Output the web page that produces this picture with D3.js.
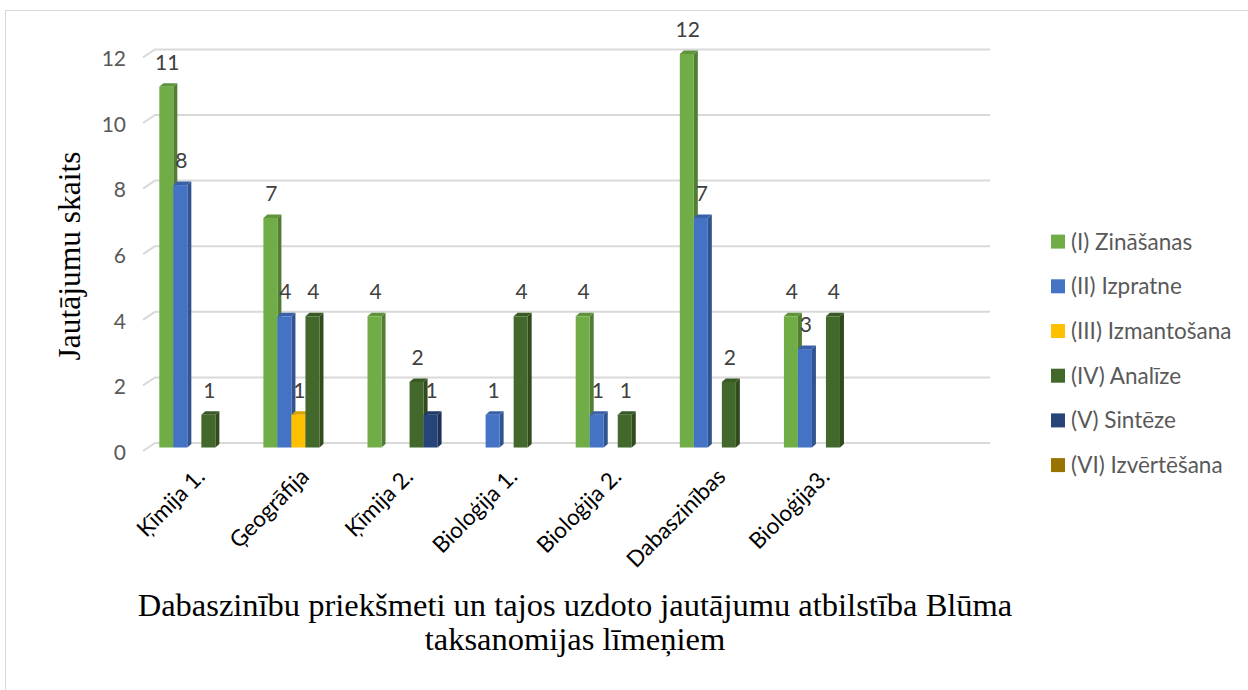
<!DOCTYPE html>
<html>
<head>
<meta charset="utf-8">
<script src="https://cdn.jsdelivr.net/npm/d3@7"></script>
<style>
  body { margin: 0; background: #fff; }
  svg { display: block; }
</style>
</head>
<body>
<svg id="chart" width="1248" height="690"></svg>
<script>
// subjects (last slot is left empty, as in the original sheet)
const categories = ['Ķīmija 1.', 'Ģeogrāfija', 'Ķīmija 2.', 'Bioloģija 1.', 'Bioloģija 2.', 'Dabaszinības', 'Bioloģija3.', ''];
const seriesNames = ['(I) Zināšanas', '(II) Izpratne', '(III) Izmantošana', '(IV) Analīze', '(V) Sintēze', '(VI) Izvērtēšana'];
const zinasanas = [11, 7, 4, 0, 4, 12, 4];
const izpratne = [8, 4, 0, 1, 1, 7, 3];
const izmantosana = [0, 1, 0, 0, 0, 0, 0];
const analize = [1, 4, 2, 4, 1, 2, 4];
const sinteze = [0, 0, 1, 0, 0, 0, 0];
const izvertesana = [0, 0, 0, 0, 0, 0, 0];
const yTicks = [0, 2, 4, 6, 8, 10, 12];

const seriesValues = [zinasanas, izpratne, izmantosana, analize, sinteze, izvertesana];
const front = ['#70ad47', '#4472c4', '#ffc000', '#43682b', '#264478', '#997300'];

const svg = d3.select('#chart');
const depthX = 4, depthY = 3.5, wallX = 12, wallY = 8;

// chart frame
svg.append('rect')
	.attr('x', 5.5).attr('y', 10.5)
	.attr('width', 1300).attr('height', 800)
	.attr('fill', 'none').attr('stroke', '#d9d9d9').attr('stroke-width', 1);

const x = d3.scaleBand().domain(d3.range(categories.length)).range([149.3, 982.1]);
const xs = d3.scaleBand().domain(d3.range(seriesNames.length)).range([10, x.bandwidth() - 10]);
const y = d3.scaleLinear().domain([0, 12]).range([447.5, 53.9]);

// gridlines on the back wall
const grid = svg.append('g');
yTicks.forEach(t => {
	const yy = y(t);
	grid.append('path')
		.attr('d', `M143,${yy + 3.5}L${143 + wallX},${yy + 3.5 - wallY}H990`)
		.attr('fill', 'none').attr('stroke', '#d9d9d9').attr('stroke-width', 2);
});

// y axis tick labels
const yAxis = svg.append('g')
	.attr('transform', 'translate(126,5)')
	.call(d3.axisLeft(y).tickValues(yTicks).tickSize(0).tickPadding(0));
yAxis.select('.domain').remove();
yAxis.selectAll('text')
	.attr('font-family', 'Lato, sans-serif').attr('font-size', 21).attr('fill', '#595959');

// bars, drawn left to right so the next front face hides the side of the previous one
const bars = svg.append('g');
categories.forEach((c, i) => {
	seriesValues.forEach((vals, s) => {
		const v = vals[i];
		if (!v) return;
		const x0 = x(i) + xs(s), w = xs.bandwidth(), yt = y(v), yb = y(0);
		const col = d3.color(front[s]);
		const g = bars.append('g');
		g.append('path')
			.attr('d', `M${x0 + w},${yb}L${x0 + w},${yt}L${x0 + w + depthX},${yt - depthY}L${x0 + w + depthX},${yb - depthY}Z`)
			.attr('fill', col.darker(0.9));
		g.append('path')
			.attr('d', `M${x0},${yt}L${x0 + depthX},${yt - depthY}L${x0 + w + depthX},${yt - depthY}L${x0 + w},${yt}Z`)
			.attr('fill', col.darker(0.45));
		g.append('rect')
			.attr('x', x0).attr('y', yt)
			.attr('width', w).attr('height', yb - yt)
			.attr('fill', front[s]);
	});
});

// value labels
const labels = svg.append('g');
categories.forEach((c, i) => {
	seriesValues.forEach((vals, s) => {
		const v = vals[i];
		if (!v) return;
		labels.append('text')
			.attr('x', x(i) + xs(s) + xs.bandwidth() / 2 + 1)
			.attr('y', y(v) - 17)
			.attr('text-anchor', 'middle')
			.attr('font-family', 'Lato, sans-serif').attr('font-size', 21)
			.attr('fill', '#404040')
			.text(v);
	});
});

// category labels
const xAxis = svg.append('g');
categories.forEach((c, i) => {
	const cx = x(i) + x.bandwidth() / 2 + 5;
	xAxis.append('text')
		.attr('transform', `translate(${cx},478) rotate(-45)`)
		.attr('text-anchor', 'end')
		.attr('font-family', 'Lato, sans-serif').attr('font-size', 22.5)
		.attr('fill', '#000')
		.text(c);
});

// axis titles
svg.append('text')
	.attr('transform', 'translate(80,256) rotate(-90)')
	.attr('text-anchor', 'middle')
	.attr('font-family', '"Liberation Serif", "Times New Roman", serif').attr('font-size', 31.5)
	.text('Jautājumu skaits');

const title = svg.append('text')
	.attr('text-anchor', 'middle')
	.attr('font-family', '"Liberation Serif", "Times New Roman", serif').attr('font-size', 32.5);
title.append('tspan').attr('x', 575).attr('y', 616).text('Dabaszinību priekšmeti un tajos uzdoto jautājumu atbilstība Blūma');
title.append('tspan').attr('x', 575).attr('y', 650).text('taksanomijas līmeņiem');

// legend
const legend = svg.append('g');
seriesNames.forEach((name, s) => {
	const ly = 241.6 + s * 44.7;
	legend.append('rect')
		.attr('x', 1051).attr('y', ly - 7)
		.attr('width', 14).attr('height', 14)
		.attr('fill', front[s]);
	legend.append('text')
		.attr('x', 1071).attr('y', ly + 8)
		.attr('font-family', 'Lato, sans-serif').attr('font-size', 22.5)
		.attr('fill', '#595959')
		.text(name);
});
</script>
</body>
</html>
